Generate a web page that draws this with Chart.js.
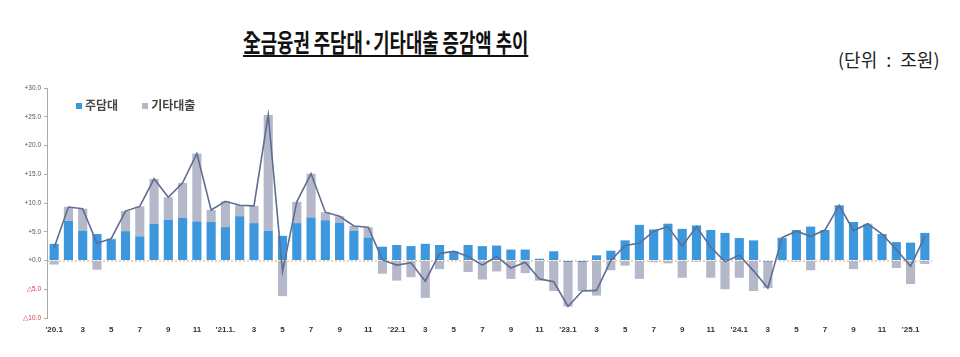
<!DOCTYPE html>
<html>
<head>
<meta charset="utf-8">
<script src="https://cdn.jsdelivr.net/npm/chart.js@4.4.0/dist/chart.umd.min.js"></script>
<style>
  body { margin: 0; background: #fff; width: 960px; height: 357px; overflow: hidden; position: relative; font-family: "Noto Sans CJK KR", "Noto Sans", sans-serif; }
  #title { position: absolute; top: 23px; left: 243px; width: 290px; white-space: nowrap; }
  #title span { display: inline-block; font-size: 25px; font-weight: bold; color: #111; transform: scaleX(0.71); transform-origin: left top; text-decoration: underline; text-underline-offset: 3px; text-decoration-thickness: 2px; }
  #unit { position: absolute; top: 46px; left: 838px; white-space: nowrap; }
  #unit span { display: inline-block; font-size: 18px; color: #222; transform: scaleX(1.0); transform-origin: left top; word-spacing: 5px; }
  #legend { position: absolute; top: 96px; left: 76px; font-size: 12px; font-weight: bold; color: #444; white-space: nowrap; }
  #legend i { display: inline-block; width: 6px; height: 6px; margin-right: 3px; vertical-align: 1px; }
  #wrap { position: absolute; left: 0; top: 80px; width: 960px; height: 277px; }
</style>
</head>
<body>
<div id="title"><span>全금융권 주담대·기타대출 증감액 추이</span></div>
<div id="unit"><span>(단위 : 조원)</span></div>
<div id="wrap"><canvas id="barChart"></canvas></div>
<div id="legend"><i style="background:#3d97dc"></i>주담대<span style="display:inline-block;width:24px"></span><i style="background:#b4b8c8"></i>기타대출</div>
<script>
var months = ["'20.1","2","3","4","5","6","7","8","9","10","11","12",
  "'21.1.","2","3","4","5","6","7","8","9","10","11","12",
  "'22.1","2","3","4","5","6","7","8","9","10","11","12",
  "'23.1","2","3","4","5","6","7","8","9","10","11","12",
  "'24.1","2","3","4","5","6","7","8","9","10","11","12",
  "'25.1","2"];

var mortgage = [2.9, 6.9, 5.2, 4.6, 3.7, 5.1, 4.2, 6.4, 7.1, 7.4,
  6.8, 6.7, 5.8, 7.7, 6.5, 5.2, 4.3, 6.5, 7.5, 7.0,
  6.6, 5.2, 4.0, 2.4, 2.7, 2.5, 2.9, 2.7, 1.6, 2.7,
  2.5, 2.6, 1.9, 1.9, 0.3, 1.6, -0.3, -0.3, 0.9, 1.7,
  3.5, 6.2, 5.4, 6.4, 5.5, 6.1, 5.3, 4.8, 3.9, 3.5,
  -0.2, 3.9, 5.3, 5.9, 5.3, 9.6, 6.7, 6.2, 4.6, 3.2,
  3.1, 4.8];

var otherLoans = [-0.7, 2.4, 3.8, -1.6, 0.1, 3.5, 5.2, 7.8, 3.9, 6.1,
  11.8, 2.1, 4.5, 1.9, 3.0, 20.1, -6.2, 3.7, 7.6, 1.4,
  1.1, 0.8, 1.8, -2.3, -3.5, -2.9, -6.5, -1.5, 0.0, -2.0,
  -3.3, -1.9, -3.2, -2.2, -3.5, -5.3, -7.7, -5.0, -6.1, -1.7,
  -0.9, -3.2, -0.3, -0.5, -3.0, -0.2, -3.0, -5.0, -3.0, -5.3,
  -4.6, 0.1, -0.2, -1.7, 0.0, 0.0, -1.5, 0.2, 0.0, -1.3,
  -4.1, -0.6];

var total = [2.2, 9.3, 9.0, 3.0, 3.8, 8.6, 9.4, 14.2, 11.0, 13.5,
  18.6, 8.8, 10.3, 9.6, 9.5, 25.3, -1.9, 10.2, 15.1, 8.4,
  7.7, 6.0, 5.8, 0.1, -0.8, -0.4, -3.6, 1.2, 1.6, 0.7,
  -0.8, 0.7, -1.3, -0.3, -3.2, -3.7, -8.0, -5.3, -5.2, 0.0,
  2.6, 3.0, 5.1, 5.9, 2.5, 5.9, 2.3, -0.2, 0.9, -1.8,
  -4.8, 4.0, 5.1, 4.2, 5.3, 9.6, 5.2, 6.4, 4.6, 1.9,
  -1.0, 4.2];

var yTicks = [-10, -5, 0, 5, 10, 15, 20, 25, 30];

// dotted zero line
var zeroLine = {
  id: 'zeroLine',
  beforeDatasetsDraw: function(chart) {
    var ctx = chart.ctx, y = chart.scales.y.getPixelForValue(0), a = chart.chartArea;
    ctx.save();
    ctx.strokeStyle = '#d9a56e';
    ctx.lineWidth = 1;
    ctx.setLineDash([2, 2]);
    ctx.beginPath();
    ctx.moveTo(a.left, y + 0.5);
    ctx.lineTo(a.right, y + 0.5);
    ctx.stroke();
    ctx.restore();
  }
};

var ctx = document.getElementById("barChart").getContext('2d');
var myChart = new Chart(ctx, {
  type: 'bar',
  data: {
    labels: months,
    datasets: [
      {
        type: 'line',
        label: "합계",
        data: total,
        stack: 'total',
        borderColor: '#5f6d92',
        borderWidth: 1.6,
        pointRadius: 0,
        tension: 0,
        order: 0
      },
      {
        label: "주담대",
        data: mortgage,
        stack: 'loans',
        backgroundColor: '#3d97dc',
        barPercentage: 0.64,
        categoryPercentage: 1,
        order: 1
      },
      {
        label: "기타대출",
        data: otherLoans,
        stack: 'loans',
        backgroundColor: '#b4b8c8',
        barPercentage: 0.64,
        categoryPercentage: 1,
        order: 1
      }
    ]
  },
  options: {
    responsive: true,
    maintainAspectRatio: false,
    animation: false,
    layout: { padding: { left: 0, right: 28, top: 8, bottom: 0 } },
    plugins: { legend: { display: false }, tooltip: { enabled: false } },
    scales: {
      x: {
        stacked: true,
        afterFit: function(s) { s.height = 39; },
        grid: { display: false, drawTicks: false },
        border: { display: false },
        ticks: {
          autoSkip: false,
          maxRotation: 0,
          padding: 7,
          color: '#333',
          font: { size: 8, weight: 'bold', family: 'Liberation Sans' },
          callback: function(v, i) { return i % 2 === 0 ? months[i] : ''; }
        }
      },
      y: {
        stacked: true,
        min: -10,
        max: 30,
        afterFit: function(s) { s.width = 47; },
        afterBuildTicks: function(s) { s.ticks = yTicks.map(function(v) { return { value: v }; }); },
        grid: { drawOnChartArea: false, drawTicks: true, tickLength: 3, color: '#aaa' },
        border: { display: true, color: '#aaa' },
        ticks: {
          padding: 3,
          font: { size: 6.5, family: 'Liberation Sans' },
          color: function(c) { return c.tick.value < 0 ? '#e0333c' : '#555'; },
          callback: function(v) { return v < 0 ? '△' + Math.abs(v).toFixed(1) : '+' + v.toFixed(1); }
        }
      }
    }
  },
  plugins: [zeroLine]
});
</script>
</body>
</html>
